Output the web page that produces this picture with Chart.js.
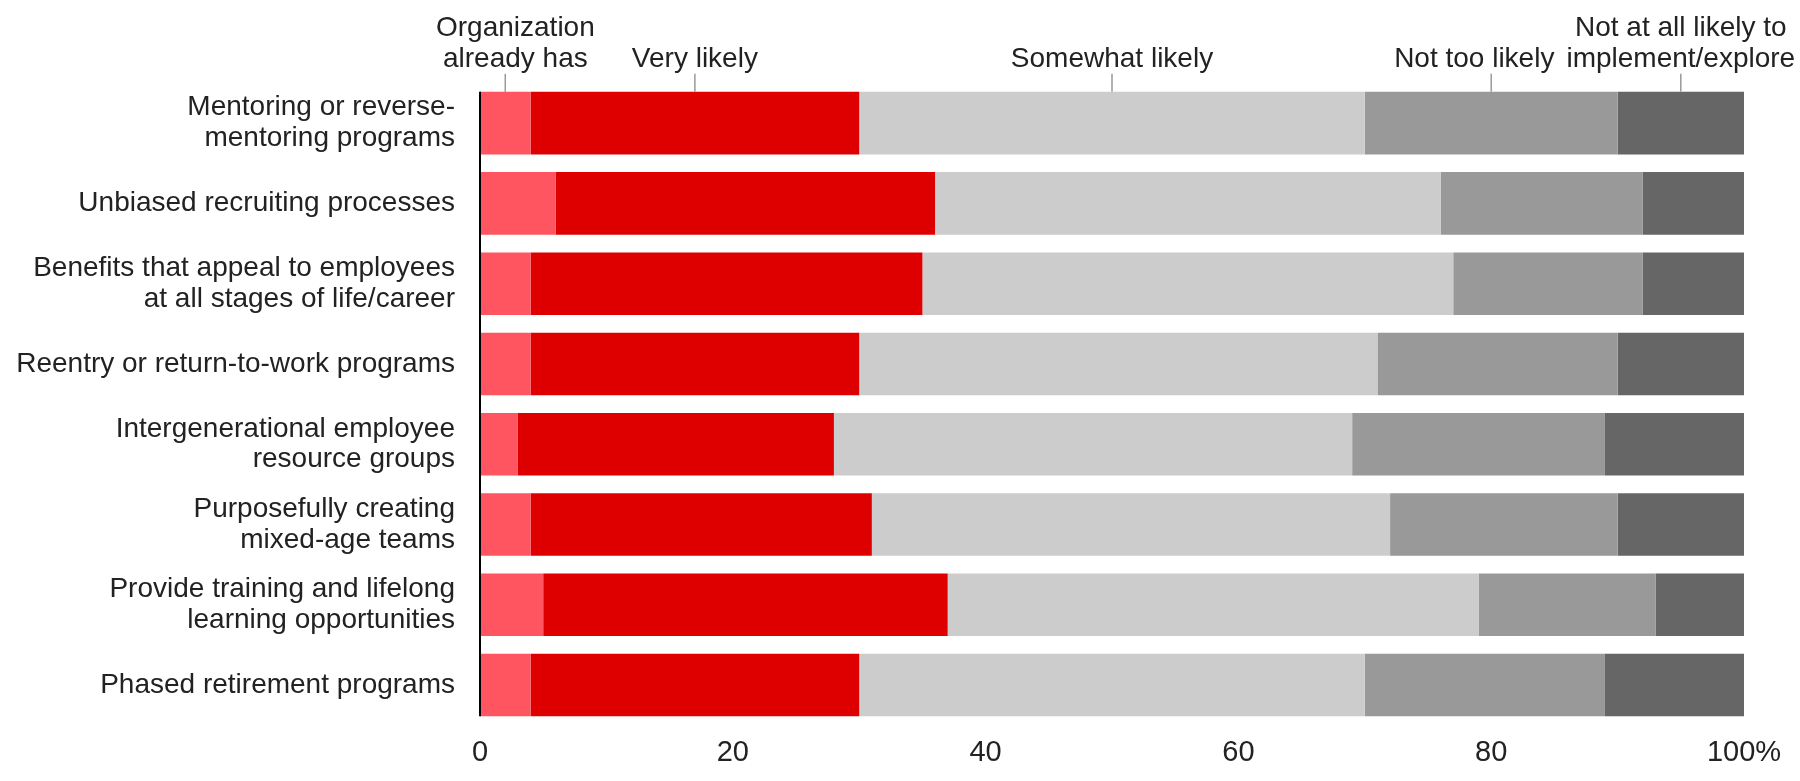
<!DOCTYPE html>
<html>
<head>
<meta charset="utf-8">
<script src="https://cdn.jsdelivr.net/npm/chart.js@4.4.1/dist/chart.umd.min.js"></script>
<style>
  body { margin: 0; background: #fff; }
  #wrap { width: 1800px; height: 781px; }
</style>
</head>
<body>
<div id="wrap"><canvas id="surveyChart" width="1800" height="781"></canvas></div>
<script>
// categories (top to bottom) and the five answer series, in percent
const categories = [
  ["Mentoring or reverse-", "mentoring programs"],
  "Unbiased recruiting processes",
  ["Benefits that appeal to employees", "at all stages of life/career"],
  "Reentry or return-to-work programs",
  ["Intergenerational employee", "resource groups"],
  ["Purposefully creating", "mixed-age teams"],
  ["Provide training and lifelong", "learning opportunities"],
  "Phased retirement programs"
];
const seriesNames = [
  ["Organization", "already has"],
  "Very likely",
  "Somewhat likely",
  "Not too likely",
  ["Not at all likely to", "implement/explore"]
];
const alreadyHas     = [4, 6, 4, 4, 3, 4, 5, 4];
const veryLikely     = [26, 30, 31, 26, 25, 27, 32, 26];
const somewhatLikely = [40, 40, 42, 41, 41, 41, 42, 40];
const notTooLikely   = [20, 16, 15, 19, 20, 18, 14, 19];
const notAtAll       = [10, 8, 8, 10, 11, 10, 7, 11];
const xTicks = [0, 20, 40, 60, 80, 100];
const xTickLabels = ["0", "20", "40", "60", "80", "100%"];

const colors = ["#ff5561", "#de0000", "#cccccc", "#999999", "#666666"];
const FONT = "Arial, 'Liberation Sans', sans-serif";

const seriesValues = [alreadyHas, veryLikely, somewhatLikely, notTooLikely, notAtAll];

// y axis line + series labels above the first bar with leader lines
const headerPlugin = {
  id: "header",
  afterDraw(chart) {
    const ctx = chart.ctx;
    const x = chart.scales.x;
    const first = chart.getDatasetMeta(0).data;
    const last = first[first.length - 1];
    const barTop = first[0].y - first[0].height / 2;
    const barBottom = last.y + last.height / 2;

    ctx.save();
    ctx.strokeStyle = "#000";
    ctx.lineWidth = 2;
    ctx.beginPath();
    ctx.moveTo(x.left, barTop);
    ctx.lineTo(x.left, barBottom);
    ctx.stroke();

    ctx.font = "28px " + FONT;
    ctx.fillStyle = "#222";
    ctx.textBaseline = "alphabetic";
    ctx.textAlign = "center";

    // leader line at the middle of each segment of the first bar
    let start = 0;
    const labels = seriesNames.map((name, i) => {
      const v = seriesValues[i][0];
      const px = x.getPixelForValue(start + v / 2);
      start += v;
      const lines = Array.isArray(name) ? name : [name];
      const w = Math.max(...lines.map(l => ctx.measureText(l).width));
      return { px, lines, w, cx: px };
    });

    // keep labels inside the canvas and apart from each other
    const n = labels.length;
    labels[n - 1].cx = Math.min(labels[n - 1].cx, chart.width - 4 - labels[n - 1].w / 2);
    for (let i = n - 2; i >= 0; i--) {
      const maxRight = labels[i + 1].cx - labels[i + 1].w / 2 - 12;
      if (labels[i].cx + labels[i].w / 2 > maxRight) labels[i].cx = maxRight - labels[i].w / 2;
    }
    if (labels[0].cx - labels[0].w / 2 < x.left - 44) labels[0].cx = x.left - 44 + labels[0].w / 2;

    labels.forEach((lab) => {
      ctx.strokeStyle = "#999";
      ctx.lineWidth = 1.5;
      ctx.beginPath();
      ctx.moveTo(lab.px, barTop - 18);
      ctx.lineTo(lab.px, barTop);
      ctx.stroke();

      lab.lines.forEach((line, j) => {
        const baseY = barTop - 25 - (lab.lines.length - 1 - j) * 31;
        ctx.fillText(line, lab.cx, baseY);
      });
    });
    ctx.restore();
  }
};

new Chart(document.getElementById("surveyChart"), {
  type: "bar",
  data: {
    labels: categories,
    datasets: seriesValues.map((vals, i) => ({
      label: Array.isArray(seriesNames[i]) ? seriesNames[i].join(" ") : seriesNames[i],
      data: vals,
      backgroundColor: colors[i],
      borderWidth: 0,
      barPercentage: 0.78,
      categoryPercentage: 1
    }))
  },
  options: {
    indexAxis: "y",
    responsive: false,
    animation: false,
    layout: { padding: { top: 83, right: 56, left: 0, bottom: 0 } },
    plugins: {
      legend: { display: false },
      tooltip: { enabled: false }
    },
    scales: {
      x: {
        stacked: true,
        min: 0,
        max: 100,
        afterBuildTicks: (scale) => { scale.ticks = xTicks.map(v => ({ value: v })); },
        afterFit: (scale) => { scale.height = 42; },
        grid: { display: false, drawTicks: false },
        border: { display: false },
        ticks: {
          padding: 10,
          color: "#222",
          font: { size: 29, family: FONT },
          callback: (v) => xTickLabels[xTicks.indexOf(v)]
        }
      },
      y: {
        stacked: true,
        afterFit: (scale) => { scale.width = 480; },
        grid: { display: false, drawTicks: false },
        border: { display: false },
        ticks: {
          padding: 25,
          color: "#222",
          font: { size: 28, family: FONT, lineHeight: 1.1 }
        }
      }
    }
  },
  plugins: [headerPlugin]
});
</script>
</body>
</html>
